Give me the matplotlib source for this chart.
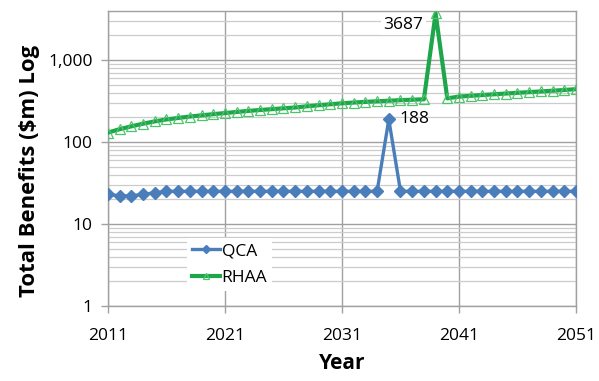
import matplotlib.pyplot as plt
from matplotlib.ticker import FixedLocator, LogLocator, NullFormatter

plt.rcParams["font.family"] = ["Open Sans", "DejaVu Sans"]

years = list(range(2011, 2052))

qca = [23, 22, 22, 23, 24, 25, 25, 25, 25, 25,
       25, 25, 25, 25, 25, 25, 25, 25, 25, 25,
       25, 25, 25, 25, 188, 25, 25, 25, 25, 25,
       25, 25, 25, 25, 25, 25, 25, 25, 25, 25, 25]

rhaa = [130, 143, 155, 167, 178, 188, 196, 204, 211, 218,
        225, 232, 239, 245, 251, 257, 263, 272, 280, 288,
        296, 302, 308, 313, 318, 323, 327, 331, 3687, 340,
        357, 365, 373, 381, 389, 397, 405, 413, 421, 430, 440]

y_ticks = [1, 10, 100, 1000]
y_tick_labels = ["1", "10", "100", "1,000"]
x_ticks = [2011, 2021, 2031, 2041, 2051]

blue = "#4a7ebb"
green = "#1ea64a"
green_light = "#4cc46a"
grid_major = "#a0a0a0"
grid_minor = "#cccccc"

fig = plt.figure(figsize=(5.99, 3.81), dpi=100)
ax = fig.add_axes([0.1803, 0.1969, 0.7813, 0.7731])

ax.plot(years, qca, color=blue, lw=2.4, marker="D", ms=6.5,
        mfc=blue, mec=blue, label="QCA", zorder=4)
ax.plot(years, rhaa, color=green, lw=3.0, marker="^", ms=7,
        mfc="none", mec=green_light, mew=0.9, label="RHAA", zorder=3)

ax.set_yscale("log")
ax.set_ylim(1, 3900)
ax.set_xlim(2011, 2051)

ax.yaxis.set_major_locator(FixedLocator(y_ticks))
ax.set_yticklabels(y_tick_labels)
ax.yaxis.set_minor_locator(LogLocator(base=10, subs=range(2, 10)))
ax.yaxis.set_minor_formatter(NullFormatter())
ax.set_xticks(x_ticks)
ax.set_xticklabels([str(x) for x in x_ticks])

ax.grid(True, which="major", color=grid_major, lw=1.0, zorder=0)
ax.grid(True, which="minor", axis="y", color=grid_minor, lw=0.9, zorder=0)
ax.set_axisbelow(True)

for s in ax.spines.values():
    s.set_color(grid_major)
    s.set_linewidth(1.0)

ax.tick_params(axis="both", which="major", labelsize=12.5, colors="black",
               length=5, width=1.0)
ax.tick_params(axis="both", which="major", color=grid_major)
ax.tick_params(axis="x", pad=11)
ax.tick_params(axis="y", pad=6)
ax.tick_params(axis="y", which="minor", length=0)

ax.set_ylabel("Total Benefits ($m) Log", fontsize=15.9, fontweight="bold")
ax.yaxis.set_label_coords(-0.145, 0.459)
ax.set_xlabel("Year", fontsize=15, fontweight="bold", labelpad=6)

# value labels on the two spikes
i_r = rhaa.index(max(rhaa))
ax.annotate(str(rhaa[i_r]), (years[i_r], rhaa[i_r]), xytext=(-9, -8),
            textcoords="offset points", fontsize=12.5, ha="right", va="center",
            bbox=dict(boxstyle="square,pad=0.15", fc="white", ec="none"))
i_q = qca.index(max(qca))
ax.annotate(str(qca[i_q]), (years[i_q], qca[i_q]), xytext=(8, 0),
            textcoords="offset points", fontsize=12.5, ha="left", va="center")

leg = ax.legend(loc="upper left", bbox_to_anchor=(0.15, 0.26), fontsize=12.5,
                frameon=True, fancybox=False, framealpha=1, edgecolor="none",
                handlelength=1.6, handletextpad=0.1, borderpad=0.3,
                labelspacing=0.6, markerscale=0.7)

fig.savefig("out.png", dpi=100)
